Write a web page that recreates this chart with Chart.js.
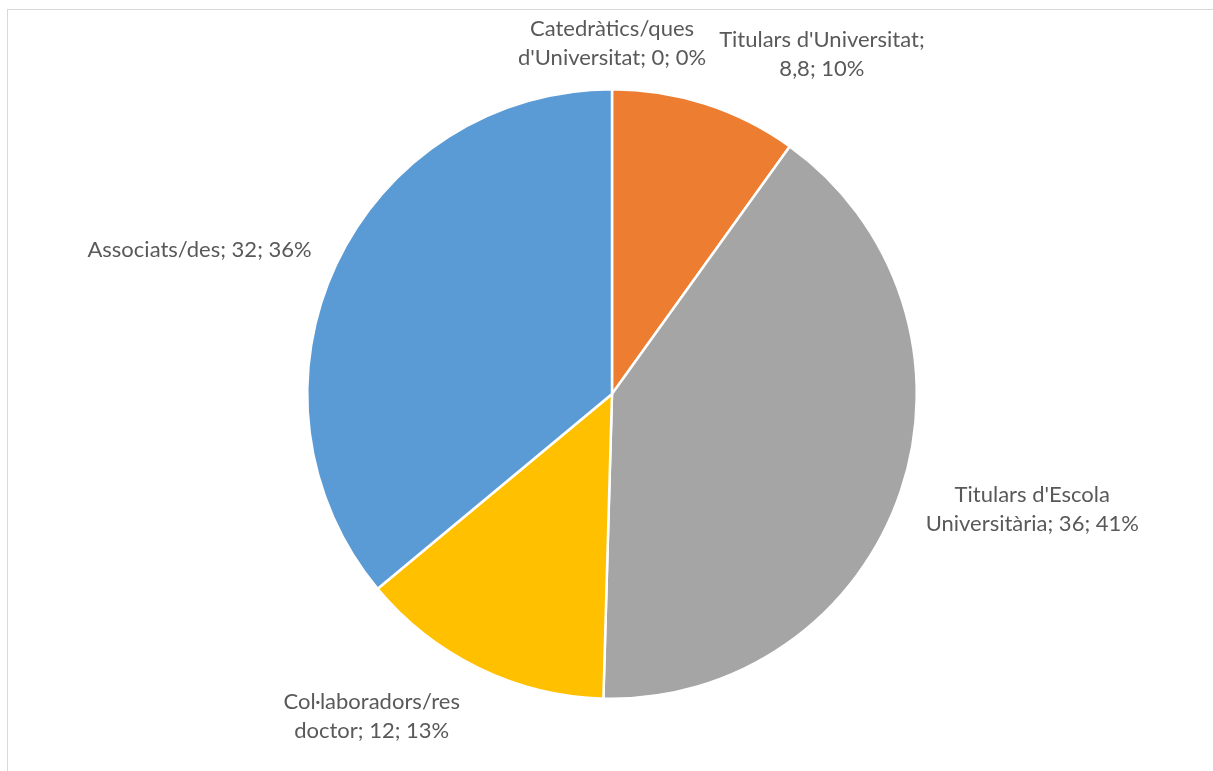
<!DOCTYPE html>
<html>
<head>
<meta charset="utf-8">
<script src="https://cdn.jsdelivr.net/npm/chart.js@4.4.1/dist/chart.umd.min.js"></script>
<style>
  html, body { margin: 0; padding: 0; background: #fff; }
  #wrap { position: relative; width: 1213px; height: 771px; overflow: hidden; }
  #frame { position: absolute; left: 7px; top: 9px; width: 1220px; height: 780px; border: 1px solid #d9d9d9; box-sizing: border-box; }
  canvas { position: absolute; left: 0; top: 0; }
</style>
</head>
<body>
<div id="wrap">
  <div id="frame"></div>
  <canvas id="myChart" width="1213" height="771"></canvas>
</div>
<script>
const categories = [
    'Catedràtics/ques d\'Universitat',
    'Titulars d\'Universitat',
    'Titulars d\'Escola Universitària',
    'Col·laboradors/res doctor',
    'Associats/des'
];
const values = [0, 8.8, 36, 12, 32];
const valueLabels = ['0', '8,8', '36', '12', '32'];
const pctLabels = ['0%', '10%', '41%', '13%', '36%'];
const colors = ['#4472C4', '#ED7D31', '#A5A5A5', '#FFC000', '#5B9BD5'];

// ajuste fino de la posición de cada etiqueta (px)
const labelNudge = [[0, -7], [82, -12], [21, 5], [-64, 13], [-26, -4]];

const labelFont = '22px Lato';
const lineHeight = 29;
const maxLabelWidth = 236;

function wrapText(ctx, text, maxW) {
    const words = text.split(' ');
    const lines = [];
    let line = '';
    words.forEach(w => {
        const test = line ? line + ' ' + w : w;
        if (ctx.measureText(test).width > maxW && line) {
            lines.push(line);
            line = w;
        } else {
            line = test;
        }
    });
    if (line) lines.push(line);
    return lines;
}

const outsideLabels = {
    id: 'outsideLabels',
    afterDatasetsDraw(chart) {
        const ctx = chart.ctx;
        const meta = chart.getDatasetMeta(0);
        ctx.save();
        ctx.font = labelFont;
        ctx.fillStyle = '#595959';
        ctx.textAlign = 'center';
        ctx.textBaseline = 'middle';
        meta.data.forEach((arc, i) => {
            const mid = (arc.startAngle + arc.endAngle) / 2;
            const ux = Math.cos(mid), uy = Math.sin(mid);
            const r = arc.outerRadius + 10;
            const text = categories[i] + '; ' + valueLabels[i] + '; ' + pctLabels[i];
            const lines = wrapText(ctx, text, maxLabelWidth);
            let w = 0;
            lines.forEach(l => { w = Math.max(w, ctx.measureText(l).width); });
            const h = lines.length * lineHeight;
            const cx = arc.x + ux * r + ux * w / 2 + labelNudge[i][0];
            const cy = arc.y + uy * r + uy * h / 2 + labelNudge[i][1];
            lines.forEach((l, k) => {
                ctx.fillText(l, cx, cy - h / 2 + lineHeight * (k + 0.5));
            });
        });
        ctx.restore();
    }
};

const ctx = document.getElementById('myChart').getContext('2d');
new Chart(ctx, {
    type: 'pie',
    data: {
        labels: categories,
        datasets: [{
            data: values,
            backgroundColor: colors,
            borderColor: '#ffffff',
            borderWidth: 2.5
        }]
    },
    options: {
        responsive: false,
        animation: false,
        layout: { padding: { top: 88, bottom: 71, left: 306, right: 295 } },
        plugins: {
            legend: { display: false },
            tooltip: { enabled: false }
        }
    },
    plugins: [outsideLabels]
});
</script>
</body>
</html>
